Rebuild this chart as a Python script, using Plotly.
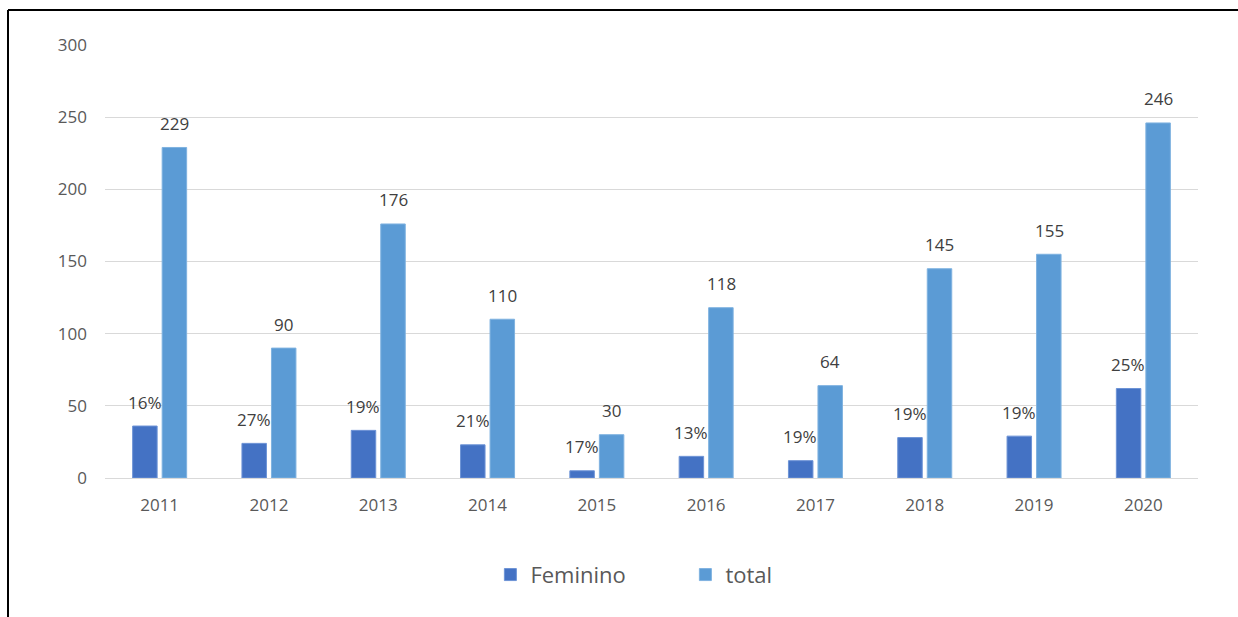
import plotly.graph_objects as go

years = ["2011", "2012", "2013", "2014", "2015", "2016", "2017", "2018", "2019", "2020"]
feminino = [36, 24, 33, 23, 5, 15, 12, 28, 29, 62]
total = [229, 90, 176, 110, 30, 118, 64, 145, 155, 246]
fem_labels = ["16%", "27%", "19%", "21%", "17%", "13%", "19%", "19%", "19%", "25%"]
total_labels = [str(v) for v in total]

W, H = 1238, 617
ml, mr, mt, mb = 105, 40, 45, 139

fig = go.Figure()
fig.add_trace(go.Bar(x=years, y=feminino, name="Feminino",
                     marker=dict(color="#4472C4", line=dict(color="#6d93d6", width=1))))
fig.add_trace(go.Bar(x=years, y=total, name="total",
                     marker=dict(color="#5B9BD5", line=dict(color="#7fb2e0", width=1))))

lab_font = dict(size=17, color="#404040", family="Open Sans")
annots = []
for i in range(len(years)):
    annots.append(dict(x=i, y=feminino[i], text=fem_labels[i], xref="x", yref="y",
                       showarrow=False, xshift=-15, yshift=24, yanchor="middle",
                       font=lab_font))
    annots.append(dict(x=i, y=total[i], text=total_labels[i], xref="x", yref="y",
                       showarrow=False, xshift=15, yshift=24, yanchor="middle",
                       font=lab_font))

pw = W - ml - mr
ph = H - mt - mb
bx = (8 - ml) / pw
by = 1 + (mt - 10) / ph
shapes = [
    dict(type="line", xref="paper", yref="paper", x0=bx, x1=bx, y0=-2, y1=by,
         line=dict(color="black", width=2)),
    dict(type="line", xref="paper", yref="paper", x0=bx, x1=2, y0=by, y1=by,
         line=dict(color="black", width=2)),
]

fig.update_layout(
    width=W, height=H,
    margin=dict(l=ml, r=mr, t=mt, b=mb, pad=0),
    plot_bgcolor="white", paper_bgcolor="white",
    barmode="group", bargap=0.46, bargroupgap=0.17,
    font=dict(family="Open Sans", color="#595959"),
    xaxis=dict(type="category", range=[-0.5, 9.5], showgrid=False, showline=True,
               linecolor="#d9d9d9", linewidth=1,
               tickfont=dict(size=17, color="#595959"), ticks="", ticklabelstandoff=12),
    yaxis=dict(range=[0, 300], dtick=50, showgrid=True, gridcolor="#d9d9d9", gridwidth=1,
               zeroline=False, showline=False, tickfont=dict(size=17, color="#595959"),
               ticklabelstandoff=17),
    legend=dict(orientation="h", x=0.531, xanchor="center", y=-0.175, yanchor="top",
                font=dict(size=22, color="#595959"), entrywidth=150, entrywidthmode="pixels"),
    annotations=annots, shapes=shapes, showlegend=True,
)

fig.write_html("out.html", config={"displayModeBar": False},
               post_script="document.body.style.margin='0';document.body.style.overflow='hidden';")
